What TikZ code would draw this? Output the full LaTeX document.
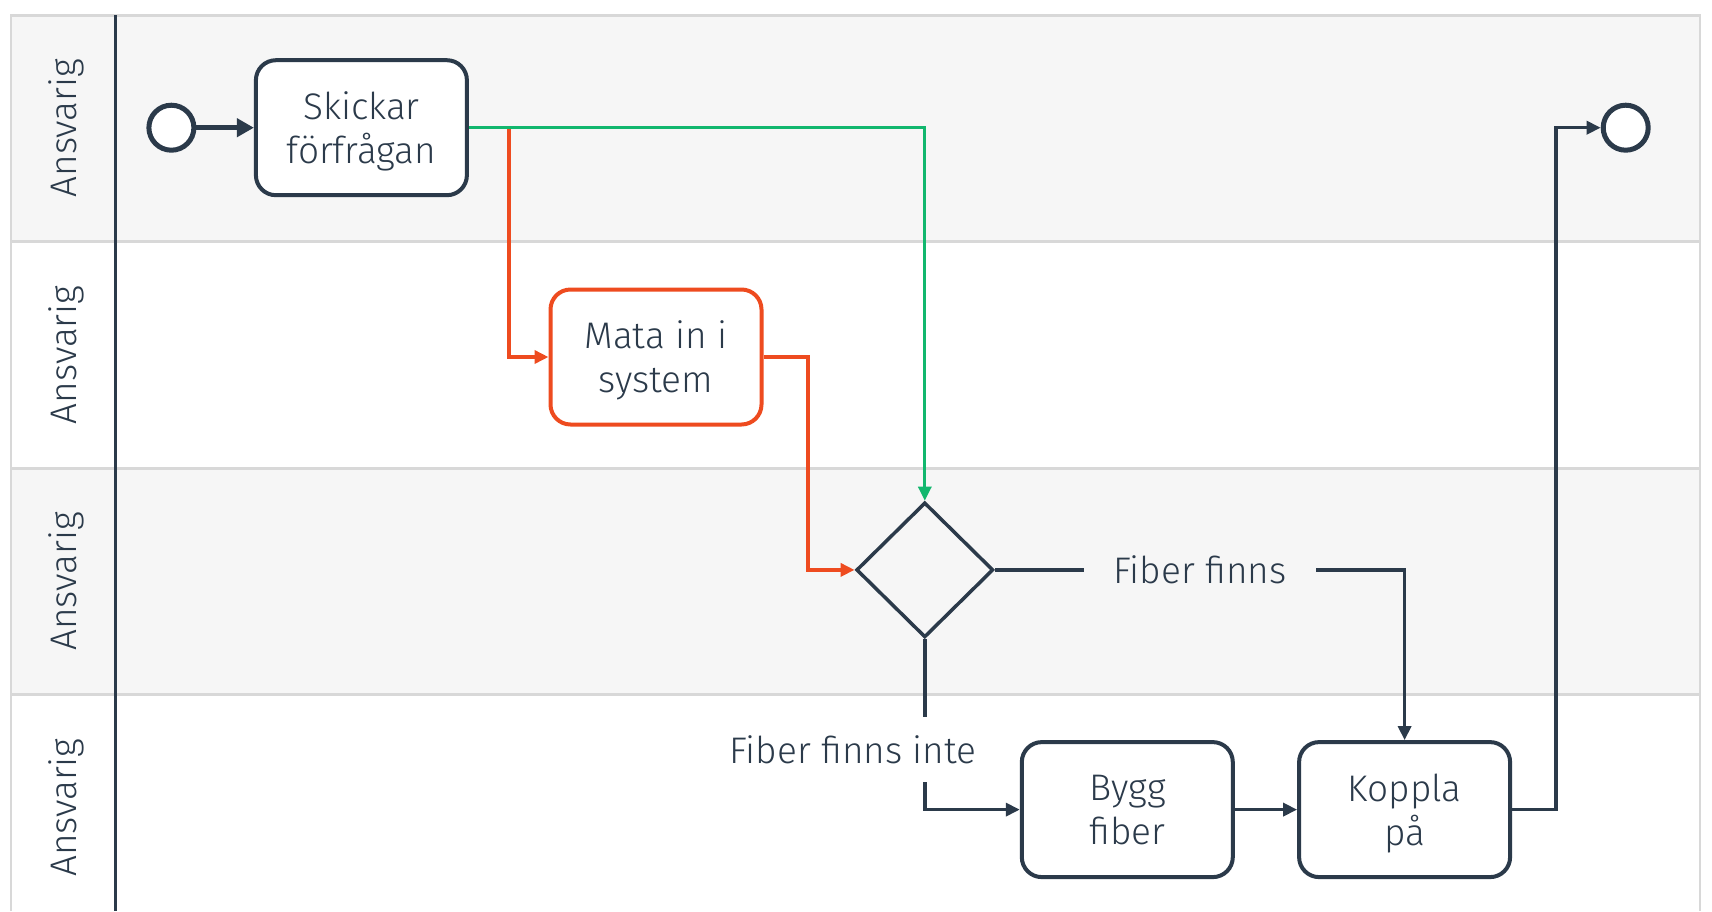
\documentclass[tikz,border=0pt]{standalone}
\usepackage{fontspec}
\IfFontExistsTF{Fira Sans Light}{\setmainfont{Fira Sans Light}}{\setmainfont{Fira Sans}}
\usetikzlibrary{arrows.meta,shapes.geometric}
\definecolor{navy}{HTML}{2B3A4A}
\definecolor{orng}{HTML}{EE4B1F}
\definecolor{grn}{HTML}{12B76E}
\definecolor{lanegrey}{HTML}{F6F6F6}
\definecolor{laneline}{HTML}{D8D8D8}
\tikzset{
  txt/.style={text=navy, font=\fontsize{37}{44}\selectfont},
  task/.style={txt, draw=navy, line width=4pt, rounded corners=20pt, fill=white,
    minimum width=211pt, minimum height=135pt, align=center, inner sep=0pt, text depth=-5pt},
  otask/.style={task, draw=orng},
  event/.style={circle, draw=navy, line width=5pt, fill=white, minimum size=45pt, inner sep=0pt},
  gate/.style={diamond, draw=navy, line width=3.5pt, aspect=1, minimum width=137pt, minimum height=135pt, inner sep=0pt},
  flow/.style={navy, line width=3.5pt, -{Triangle[length=14pt,width=13pt]}},
  oflow/.style={orng, line width=3.5pt, -{Triangle[length=14pt,width=13pt]}},
  gflow/.style={grn, line width=3.2pt, -{Triangle[length=14pt,width=13pt]}},
  lanelabel/.style={txt, rotate=90},
  flabel/.style={txt, inner sep=0pt}
}
\begin{document}
\begin{tikzpicture}[x=1pt,y=-1pt]
\useasboundingbox (0,0) rectangle (1712,911);
% lanes
\fill[lanegrey] (10.9,15.3) rectangle (1700,241.3);
\fill[white] (10.9,241.3) rectangle (1700,468.4);
\fill[lanegrey] (10.9,468.4) rectangle (1700,694.4);
\fill[white] (10.9,694.4) rectangle (1700,911);
\draw[laneline, line width=2.5pt] (10.9,911) -- (10.9,15.3) -- (1700,15.3) -- (1700,911);
\draw[laneline, line width=2.5pt] (10.9,241.3) -- (1700,241.3);
\draw[laneline, line width=2.5pt] (10.9,468.4) -- (1700,468.4);
\draw[laneline, line width=2.5pt] (10.9,694.4) -- (1700,694.4);
\draw[navy, line width=2.5pt] (115.7,15.3) -- (115.7,911);
\node[lanelabel] (l1) at (66,128.3) {Ansvarig};
\node[lanelabel] (l2) at (66,354.9) {Ansvarig};
\node[lanelabel] (l3) at (66,581.4) {Ansvarig};
\node[lanelabel] (l4) at (66,807.6) {Ansvarig};
% nodes
\node[event] (start) at (171.4,127.7) {};
\node[task] (skick) at (361.4,127.7) {Skickar\\förfrågan};
\node[otask] (mata) at (656,357) {Mata in i\\system};
\node[gate] (dia) at (924.8,569.9) {};
\node[task] (bygg) at (1127.3,809.6) {Bygg\\fiber};
\node[task] (kop) at (1404.6,809.6) {Koppla\\på};
\node[event] (end) at (1625.7,127.7) {};
\coordinate (ob) at (508.8,127.7);
\coordinate (oc) at (808,357);
\coordinate (kr) at (1555.8,809.6);
% connectors
\draw[navy, line width=4.5pt, -{Triangle[length=17pt,width=18pt]}] (start) -- (skick);
\draw[oflow] (skick.east) -- (ob) |- (mata.west);
\draw[gflow] (skick.east) -| (dia.north);
\draw[oflow] (mata.east) -- (oc) |- (dia.west);
\draw[flow] (dia.east) -| node[flabel, pos=0.25, fill=lanegrey, minimum width=232pt, minimum height=30pt] {Fiber finns} (kop.north);
\draw[flow] (dia.south) |- node[flabel, pos=0.323, xshift=-72pt, fill=white, minimum height=65pt] {Fiber finns inte} (bygg.west);
\draw[flow] (bygg) -- (kop);
\draw[flow] (kop.east) -- (kr) |- (end.west);
\end{tikzpicture}
\end{document}
